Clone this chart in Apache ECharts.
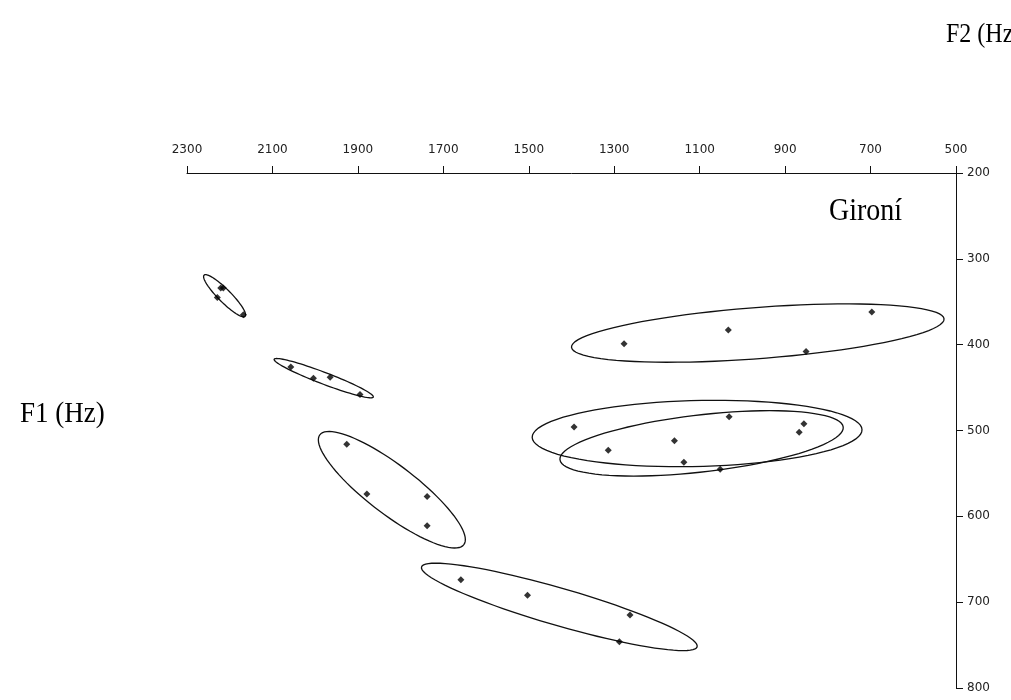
<!DOCTYPE html>
<html>
<head>
<meta charset="utf-8">
<script src="https://cdn.jsdelivr.net/npm/echarts@6/dist/echarts.min.js"></script>
<style>
html,body{margin:0;padding:0;background:#fff;overflow:hidden;}
#chart{width:1011px;height:700px;}
</style>
</head>
<body>
<div id="chart"></div>
<script>
// Tick labels
const xTicks = [2300, 2100, 1900, 1700, 1500, 1300, 1100, 900, 700, 500];
const yTicks = [200, 300, 400, 500, 600, 700, 800];

// Measured vowel tokens [F2, F1] (Hz)
const vowel1 = [[2221, 334], [2215, 334], [2229, 345], [2168, 365]];
const vowel2 = [[2057, 426], [2004, 439], [1965, 438], [1895, 458]];
const vowel3 = [[1926, 516], [1879, 574], [1738, 577], [1738, 611]];
const vowel4 = [[1659, 674], [1503, 692], [1263, 715], [1288, 746]];
const vowel5 = [[1277, 399], [1033, 383], [851, 408], [697, 362]];
const vowel6 = [[1394, 496], [1031, 484], [856, 492], [1159, 512]];
const vowel7 = [[1314, 523], [1137, 537], [1052, 545], [867, 502]];

// Dispersion ellipses: major-axis ends [F2a, F1a, F2b, F1b] and minor/major ratio
const ellipse1 = [2260, 319, 2164, 367, 0.22];
const ellipse2 = [2096, 417, 1864, 461, 0.11];
const ellipse3 = [1989, 505, 1652, 633, 0.27];
const ellipse4 = [1751, 659, 1106, 752, 0.13];
const ellipse5 = [1400, 403, 528, 370, 0.137];
const ellipse6 = [1492, 508, 720, 499, 0.2];
const ellipse7 = [1427, 534, 764, 496, 0.2];

const allPoints = [].concat(vowel1, vowel2, vowel3, vowel4, vowel5, vowel6, vowel7);
const allEllipses = [ellipse1, ellipse2, ellipse3, ellipse4, ellipse5, ellipse6, ellipse7];

function renderEllipse(params, api) {
  const p1 = api.coord([api.value(0), api.value(1)]);
  const p2 = api.coord([api.value(2), api.value(3)]);
  const ratio = api.value(4);
  const cx = (p1[0] + p2[0]) / 2, cy = (p1[1] + p2[1]) / 2;
  const dx = (p2[0] - p1[0]) / 2, dy = (p2[1] - p1[1]) / 2;
  const a = Math.hypot(dx, dy);
  const ux = dx / a, uy = dy / a;
  const b = a * ratio;
  const pts = [];
  const N = 90;
  for (let i = 0; i < N; i++) {
    const t = (i / N) * Math.PI * 2;
    const ca = a * Math.cos(t), sb = b * Math.sin(t);
    pts.push([cx + ca * ux - sb * uy, cy + ca * uy + sb * ux]);
  }
  return {
    type: 'polygon',
    shape: { points: pts },
    style: { fill: 'none', stroke: '#111', lineWidth: 1.3 }
  };
}

const chart = echarts.init(document.getElementById('chart'), null, { renderer: 'canvas' });
const axisFont = { fontFamily: 'DejaVu Sans', fontSize: 12, color: '#222' };
const plainNumber = function (v) { return String(v); };

chart.setOption({
  backgroundColor: '#fff',
  animation: false,
  grid: { left: 187, right: 55, top: 173, bottom: 12 },
  xAxis: {
    type: 'value',
    position: 'top',
    inverse: true,
    min: 500,
    max: 2300,
    splitLine: { show: false },
    axisLine: { show: true, onZero: false, lineStyle: { color: '#111', width: 1 } },
    axisTick: { show: true, length: 7, customValues: xTicks, lineStyle: { color: '#111' } },
    axisLabel: Object.assign({ margin: 17, customValues: xTicks, formatter: plainNumber, showMinLabel: true, showMaxLabel: true }, axisFont)
  },
  yAxis: {
    type: 'value',
    position: 'right',
    inverse: true,
    min: 200,
    max: 800,
    interval: 100,
    splitLine: { show: false },
    axisLine: { show: true, onZero: false, lineStyle: { color: '#111', width: 1 } },
    axisTick: { show: true, length: 7, customValues: yTicks, lineStyle: { color: '#111' } },
    axisLabel: Object.assign({ margin: 11, customValues: yTicks, formatter: plainNumber, showMinLabel: true, showMaxLabel: true }, axisFont)
  },
  graphic: [
    { type: 'text', left: 946, top: 22, scaleY: 1.1, style: { text: 'F2 (Hz)', font: '24px "Liberation Serif"', fill: '#000' } },
    { type: 'text', left: 20, top: 399, scaleY: 1.1, style: { text: 'F1 (Hz)', font: '27px "Liberation Serif"', fill: '#000' } },
    { type: 'text', left: 829, top: 197, scaleY: 1.1, style: { text: 'Gironí', font: '28px "Liberation Serif"', fill: '#000' } }
  ],
  series: [
    {
      type: 'custom',
      renderItem: renderEllipse,
      encode: { x: [0, 2], y: [1, 3] },
      data: allEllipses,
      silent: true,
      clip: false,
      z: 2
    },
    {
      type: 'scatter',
      data: allPoints,
      symbol: 'diamond',
      symbolSize: 7,
      itemStyle: { color: '#000' },
      silent: true,
      z: 3
    }
  ]
});
</script>
</body>
</html>
